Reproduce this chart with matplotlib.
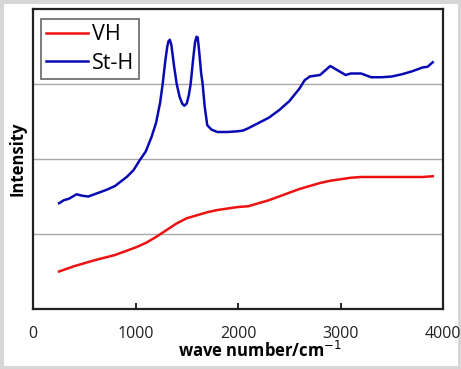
import numpy as np
import matplotlib.pyplot as plt
from matplotlib.patches import Rectangle

# St-H (blue) spectrum
sth_x = [254, 300, 350, 426, 480, 540, 600, 719, 800, 914, 980, 1044, 1100, 1158, 1200, 1240,
         1265, 1290, 1310, 1322, 1335, 1350, 1375, 1402, 1430, 1455, 1476, 1500, 1520, 1538,
         1560, 1580, 1595, 1607, 1620, 1640, 1655, 1675, 1700, 1743, 1800, 1900, 2000, 2050,
         2100, 2200, 2300, 2400, 2500, 2600, 2650, 2700, 2800, 2850, 2900, 2950, 3000, 3050,
         3100, 3200, 3300, 3400, 3500, 3600, 3700, 3800, 3850, 3900]
sth_y = [1.41, 1.45, 1.47, 1.53, 1.51, 1.50, 1.53, 1.59, 1.64, 1.76, 1.85, 1.99, 2.10, 2.30,
         2.48, 2.75, 3.00, 3.30, 3.50, 3.57, 3.59, 3.52, 3.25, 3.00, 2.83, 2.74, 2.71, 2.74,
         2.85, 3.00, 3.30, 3.55, 3.63, 3.62, 3.45, 3.15, 3.00, 2.70, 2.45, 2.39, 2.36, 2.36,
         2.37, 2.38, 2.41, 2.48, 2.55, 2.65, 2.77, 2.94, 3.05, 3.10, 3.12, 3.18, 3.24, 3.20,
         3.16, 3.12, 3.14, 3.14, 3.09, 3.09, 3.10, 3.13, 3.17, 3.22, 3.23, 3.29]

# VH (red) spectrum
vh_x = [254, 400, 600, 800, 1000, 1100, 1200, 1300, 1400, 1500, 1600, 1700, 1800, 1900,
        2000, 2100, 2200, 2300, 2400, 2500, 2600, 2700, 2800, 2900, 3000, 3100, 3200, 3400,
        3600, 3800, 3900]
vh_y = [0.50, 0.57, 0.65, 0.72, 0.82, 0.88, 0.96, 1.05, 1.14, 1.21, 1.25, 1.29, 1.32, 1.34,
        1.36, 1.37, 1.41, 1.45, 1.50, 1.55, 1.60, 1.64, 1.68, 1.71, 1.73, 1.75, 1.76, 1.76,
        1.76, 1.76, 1.77]

xticks = [0, 1000, 2000, 3000, 4000]

fig = plt.figure(figsize=(4.61, 3.69), dpi=100)
fig.patch.set_facecolor('white')
fig.patches.append(Rectangle((0, 0), 1, 1, transform=fig.transFigure, fill=False,
                             edgecolor='#d6d6d6', linewidth=5, zorder=-1))
ax = fig.add_axes([33 / 461, 1 - 309 / 369, 410 / 461, 300 / 369])

ax.plot(vh_x, vh_y, color='#ee1111', lw=1.8, label='VH')
ax.plot(sth_x, sth_y, color='#0a0ab4', lw=1.8, label='St-H')

ax.set_xlim(0, 4000)
ax.set_ylim(0, 4)
ax.set_xticks(xticks)
ax.set_xticklabels([str(t) for t in xticks], fontsize=11.5, color='#222222', family='Open Sans')
ax.set_yticks([1, 2, 3])
ax.set_yticklabels([])
ax.tick_params(axis='y', length=0)
ax.tick_params(axis='x', direction='in', length=4, width=1.2, pad=12)
ax.grid(axis='y', color='#a8a8a8', lw=1)
ax.set_axisbelow(True)
for s in ax.spines.values():
    s.set_linewidth(1.6)
    s.set_color('#222222')

ax.set_xlabel('wave number/cm$^{-1}$', fontsize=12, fontweight='bold', family='Open Sans', labelpad=0)
ax.xaxis.set_label_coords(0.554, -0.105)
ax.set_ylabel('Intensity', fontsize=12, fontweight='bold', family='Open Sans', labelpad=1)

leg = ax.legend(loc='upper left', fancybox=False, framealpha=1,
                edgecolor='#666666', handlelength=1.95, handletextpad=0.15,
                borderpad=0.25, labelspacing=0.35, prop={'family': 'Open Sans', 'size': 15.5},
                bbox_to_anchor=(0.0195, 0.967), borderaxespad=0)
leg.get_frame().set_linewidth(1.2)

fig.savefig('out.png', dpi=100)
